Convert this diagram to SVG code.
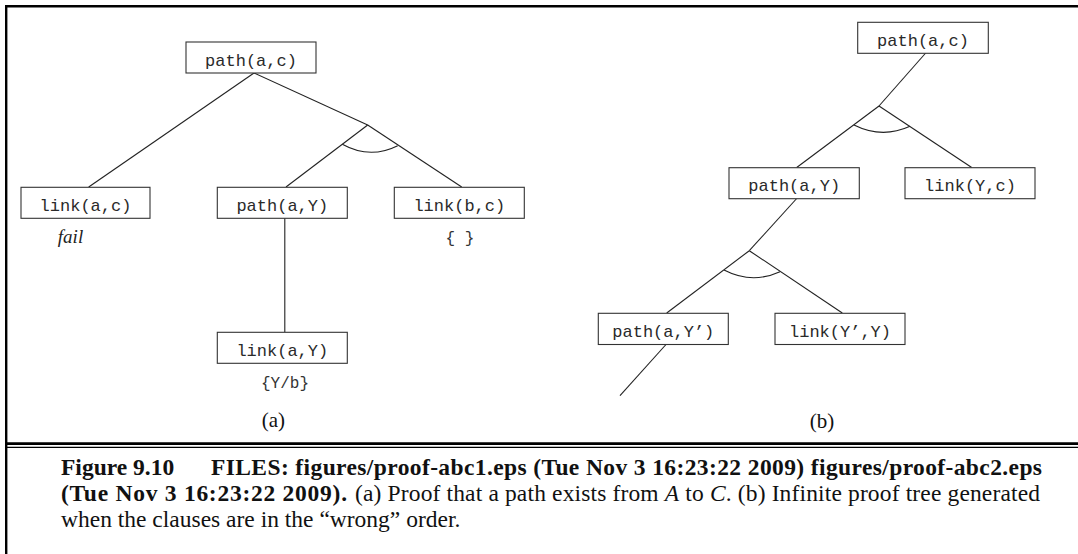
<svg xmlns="http://www.w3.org/2000/svg" width="1078" height="554" viewBox="0 0 1078 554">
<style>
.box{fill:#fff;stroke:#333;stroke-width:1.1}
.lbl{font-family:"Liberation Mono","Courier New",monospace;font-size:17px;fill:#2a2a2a;text-anchor:middle}
.note{font-family:"Liberation Mono","Courier New",monospace;font-size:16px;fill:#333;text-anchor:middle}
.sub{font-family:"Liberation Serif","Times New Roman",serif;font-size:21px;fill:#111;text-anchor:middle}
.cap{font-family:"Liberation Serif","Times New Roman",serif;font-size:23.5px;fill:#111}
.b{font-weight:bold}
.conn line,.conn path{stroke:#222;stroke-width:1.1;fill:none}
.frame{stroke:#000;fill:none}
</style>
<rect width="1078" height="554" fill="#fff"/>
<g id="frame">
<line class="frame" x1="6.2" y1="5" x2="6.2" y2="554" stroke-width="2.4"/>
<line class="frame" x1="5" y1="6.2" x2="1078" y2="6.2" stroke-width="2.4"/>
<line class="frame" x1="5" y1="443.7" x2="1078" y2="443.7" stroke-width="2.7"/>
<line class="frame" x1="5" y1="447.4" x2="1078" y2="447.4" stroke-width="1.3"/>
</g>
<g id="connectors" class="conn">
<line x1="254" y1="73" x2="88.7" y2="187"/>
<line x1="254" y1="73" x2="367.7" y2="125"/>
<line x1="367.7" y1="125" x2="286" y2="187"/>
<line x1="367.7" y1="125" x2="461.7" y2="187"/>
<line x1="284.8" y1="218" x2="284.8" y2="332"/>
<path d="M342.3,144.3 Q370,159.6 397.7,145.7"/>
<line x1="925.7" y1="53" x2="879" y2="106"/>
<line x1="879" y1="106" x2="796.7" y2="167.5"/>
<line x1="879" y1="106" x2="971.7" y2="167.5"/>
<path d="M854,125 Q882,139 910,126.3"/>
<line x1="796.7" y1="198.5" x2="749.3" y2="250.7"/>
<line x1="749.3" y1="250.7" x2="666.7" y2="313"/>
<line x1="749.3" y1="250.7" x2="842.3" y2="313"/>
<path d="M724,270 Q752,284.5 780,271.7"/>
<line x1="666" y1="344.5" x2="620" y2="395.7"/>
</g>
<g id="a-path-ac"><rect class="box" x="186" y="42" width="130" height="31"/><text class="lbl" x="251" y="65.5">path(a,c)</text></g>
<g id="a-link-ac"><rect class="box" x="21" y="187.3" width="129" height="31"/><text class="lbl" x="85.5" y="210.8">link(a,c)</text></g>
<g id="a-path-aY"><rect class="box" x="217.3" y="187.3" width="130" height="31"/><text class="lbl" x="282.3" y="210.8">path(a,Y)</text></g>
<g id="a-link-bc"><rect class="box" x="394.3" y="187.3" width="130" height="31"/><text class="lbl" x="459.3" y="210.8">link(b,c)</text></g>
<g id="a-link-aY"><rect class="box" x="217.3" y="332.3" width="130" height="31"/><text class="lbl" x="282.3" y="355.8">link(a,Y)</text></g>
<g id="a-notes">
<text x="70.5" y="243" font-family="'Liberation Serif','Times New Roman',serif" font-style="italic" font-size="19" fill="#222" text-anchor="middle">fail</text>
<text class="note" x="460" y="243">{ }</text>
<text class="note" x="285" y="388">{Y/b}</text>
<text class="sub" x="273.3" y="427">(a)</text>
</g>
<g id="b-path-ac"><rect class="box" x="857.7" y="22.3" width="130.6" height="31"/><text class="lbl" x="923" y="45.8">path(a,c)</text></g>
<g id="b-path-aY"><rect class="box" x="729" y="167.7" width="130.3" height="31"/><text class="lbl" x="794.2" y="191.2">path(a,Y)</text></g>
<g id="b-link-Yc"><rect class="box" x="905" y="167.7" width="130" height="31"/><text class="lbl" x="970" y="191.2">link(Y,c)</text></g>
<g id="b-path-aY2"><rect class="box" x="598.3" y="313.3" width="130" height="31.2"/><text class="lbl" x="663.3" y="336.8">path(a,Y’)</text></g>
<g id="b-link-Y2Y"><rect class="box" x="775" y="313.3" width="130" height="31.2"/><text class="lbl" x="840" y="336.8">link(Y’,Y)</text></g>
<g id="b-notes"><text class="sub" x="822" y="428">(b)</text></g>
<g id="caption">
<text class="cap b" x="61" y="475">Figure 9.10</text>
<text class="cap b" x="211" y="475" textLength="831" lengthAdjust="spacing">FILES: figures/proof-abc1.eps (Tue Nov 3 16:23:22 2009) figures/proof-abc2.eps</text>
<text class="cap b" x="61" y="501" textLength="286" lengthAdjust="spacing">(Tue Nov 3 16:23:22 2009).</text>
<text class="cap" x="355" y="501" textLength="685" lengthAdjust="spacing">(a) Proof that a path exists from <tspan font-style="italic">A</tspan> to <tspan font-style="italic">C</tspan>. (b) Infinite proof tree generated</text>
<text class="cap" x="61" y="527">when the clauses are in the “wrong” order.</text>
</g>
</svg>
